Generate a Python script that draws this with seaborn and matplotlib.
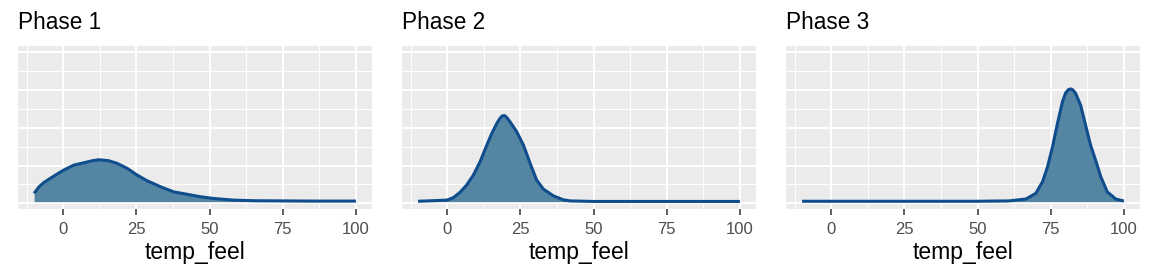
import matplotlib
matplotlib.use("Agg")
import matplotlib.pyplot as plt
import seaborn as sns
import pandas as pd
from matplotlib.ticker import FixedLocator, NullFormatter

# ---- data (density of temp_feel per phase) ----
phases = ["Phase 1", "Phase 2", "Phase 3"]
x_ticks = [0, 25, 50, 75, 100]
x_label = "temp_feel"

p1_x = [-10, -8.3, -6.6, -3.2, 0.2, 3.6, 7.0, 9.9, 12.1, 15.5, 18.4, 21.8, 25.2, 28.6, 33.2,
        37.7, 42.3, 46.8, 51.3, 58.2, 65, 75, 85, 100]
p1_d = [0.0044, 0.0079, 0.0102, 0.0136, 0.0168, 0.0194, 0.0206, 0.0217, 0.0222, 0.0217, 0.0203,
        0.0177, 0.0141, 0.0111, 0.0079, 0.0052, 0.0039, 0.0026, 0.0017, 0.0008, 0.0005, 0.0004,
        0.0003, 0.0003]

p2_x = [-10, -0.2, 2.05, 4.3, 6.6, 8.9, 11.2, 13.5, 15.2, 16.9, 18.0, 18.8, 19.6, 20.4, 21.4,
        23.7, 26.0, 28.3, 30.5, 32.8, 36.2, 39.6, 41.9, 50, 75, 100]
p2_d = [0.0002, 0.0008, 0.0021, 0.0049, 0.0088, 0.0141, 0.0212, 0.0300, 0.0362, 0.0415, 0.0442,
        0.0455, 0.0456, 0.0445, 0.0424, 0.0371, 0.0300, 0.0203, 0.0115, 0.0067, 0.0031, 0.0010,
        0.0004, 0.0001, 0.0001, 0.0001]

p3_x = [-10, 0, 25, 50, 60.8, 66.5, 69.9, 72.2, 73.9, 75.6, 77.3, 79.0, 80.1, 81.0, 81.8, 82.6,
        83.5, 85.2, 86.9, 88.6, 90.3, 92.1, 94.3, 97.2, 99.5, 100]
p3_d = [0.0002, 0.0002, 0.0002, 0.0002, 0.0004, 0.0014, 0.0044, 0.0106, 0.0185, 0.0291, 0.0415,
        0.0530, 0.0577, 0.0594, 0.0598, 0.0592, 0.0574, 0.0512, 0.0406, 0.0300, 0.0221, 0.0132,
        0.0052, 0.0014, 0.0005, 0.0004]

frames = []
for name, xs, ds in zip(phases, [p1_x, p2_x, p3_x], [p1_d, p2_d, p3_d]):
    frames.append(pd.DataFrame({"phase": name, "temp_feel": xs, "density": ds}))
df = pd.concat(frames, ignore_index=True)

# ---- style ----
sns.set_theme(style="darkgrid")
plt.rcParams["font.family"] = ["Liberation Sans", "DejaVu Sans"]

W, H = 1152, 278
fig = plt.figure(figsize=(W / 100, H / 100), dpi=100)
fig.patch.set_facecolor("white")

panel_left = [18, 402, 786]
panel_w = 354
panel_top, panel_bot = 45.7, 209

fill_col = "#5485A2"
line_col = "#0F4D8D"
bg = "#EBEBEB"

y_major = [-0.00085 + 0.02 * k for k in range(5)]
y_minor = [0.00915 + 0.02 * k for k in range(4)]

for i, name in enumerate(phases):
    ax = fig.add_axes([panel_left[i] / W, 1 - panel_bot / H, panel_w / W, (panel_bot - panel_top) / H])
    sub = df[df["phase"] == name]
    ax.set_facecolor(bg)
    ax.fill_between(sub["temp_feel"], 0, sub["density"], color=fill_col, linewidth=0, zorder=2)
    sns.lineplot(data=sub, x="temp_feel", y="density", ax=ax, color=line_col, linewidth=2.2,
                 sort=False, estimator=None, zorder=3)
    ax.lines[-1].set_solid_joinstyle("round")
    ax.lines[-1].set_solid_capstyle("butt")
    ax.set_xlim(-15.5, 105.5)
    ax.set_ylim(-0.0039, 0.0827)
    ax.xaxis.set_major_locator(FixedLocator(x_ticks))
    ax.xaxis.set_minor_locator(FixedLocator([-12.5, 12.5, 37.5, 62.5, 87.5]))
    ax.yaxis.set_major_locator(FixedLocator(y_major))
    ax.yaxis.set_minor_locator(FixedLocator(y_minor))
    ax.set_yticklabels([])
    ax.yaxis.set_minor_formatter(NullFormatter())
    ax.grid(which="major", color="white", linewidth=1.4, zorder=0)
    ax.grid(which="minor", color="white", linewidth=0.7, zorder=0)
    ax.set_axisbelow(True)
    for s in ax.spines.values():
        s.set_visible(False)
    ax.tick_params(axis="x", which="major", length=4, width=1.1, color="#333333",
                   labelsize=12, labelcolor="#4D4D4D", pad=5.5, bottom=True)
    ax.tick_params(axis="x", which="minor", length=0)
    ax.tick_params(axis="y", which="both", length=0, left=False, labelleft=False)
    ax.set_xlabel(x_label, fontsize=16.5, color="black", labelpad=3)
    ax.set_ylabel("")
    ax.set_title(name, loc="left", fontsize=16.3, color="black", pad=12)

fig.savefig("out.png", dpi=100)
